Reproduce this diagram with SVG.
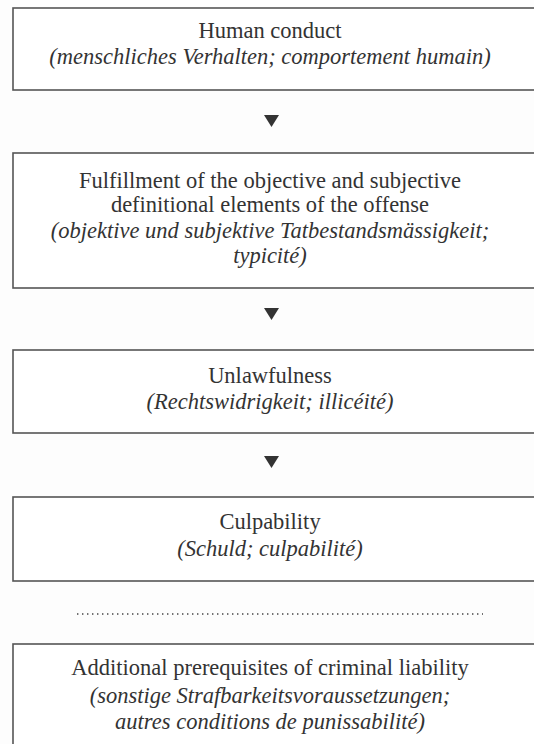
<svg xmlns="http://www.w3.org/2000/svg" width="534" height="744" viewBox="0 0 534 744">
<defs>
<style>
.box{fill:#ffffff;stroke:#555555;stroke-width:1.6}
.t{font-family:"Liberation Serif",serif;font-size:22.5px;fill:#333333;text-anchor:middle}
.i{font-family:"Liberation Serif",serif;font-style:italic}
.arr{fill:#333333}
.dots{stroke:#444444;stroke-width:1.6;stroke-dasharray:1.4 3.6;fill:none}
</style>
</defs>
<rect x="0" y="0" width="534" height="744" fill="#fdfdfd"/>
<g id="node-human-conduct">
<rect class="box" x="13" y="8" width="530" height="82"/>
<text class="t" x="270" y="38">Human conduct</text>
<text class="t i" x="270" y="64">(menschliches Verhalten; comportement humain)</text>
</g>
<g id="node-fulfillment">
<rect class="box" x="13" y="153" width="530" height="135"/>
<text class="t" x="270" y="188">Fulfillment of the objective and subjective</text>
<text class="t" x="270" y="212">definitional elements of the offense</text>
<text class="t i" x="270" y="238">(objektive und subjektive Tatbestandsmässigkeit;</text>
<text class="t i" x="270" y="263">typicité)</text>
</g>
<g id="node-unlawfulness">
<rect class="box" x="13" y="350" width="530" height="83"/>
<text class="t" x="270" y="383">Unlawfulness</text>
<text class="t i" x="270" y="409">(Rechtswidrigkeit; illicéité)</text>
</g>
<g id="node-culpability">
<rect class="box" x="13" y="497" width="530" height="84"/>
<text class="t" x="270" y="529">Culpability</text>
<text class="t i" x="270" y="556">(Schuld; culpabilité)</text>
</g>
<g id="node-additional">
<rect class="box" x="13" y="644" width="530" height="110"/>
<text class="t" x="270" y="675">Additional prerequisites of criminal liability</text>
<text class="t i" x="270" y="703">(sonstige Strafbarkeitsvoraussetzungen;</text>
<text class="t i" x="270" y="729">autres conditions de punissabilité)</text>
</g>
<g id="connectors">
<path class="arr" d="M264,115 L279,115 L271.5,127 Z"/>
<path class="arr" d="M264,308 L279,308 L271.5,320 Z"/>
<path class="arr" d="M264,456 L279,456 L271.5,468 Z"/>
<line class="dots" x1="77" y1="614" x2="483" y2="614"/>
</g>
</svg>
